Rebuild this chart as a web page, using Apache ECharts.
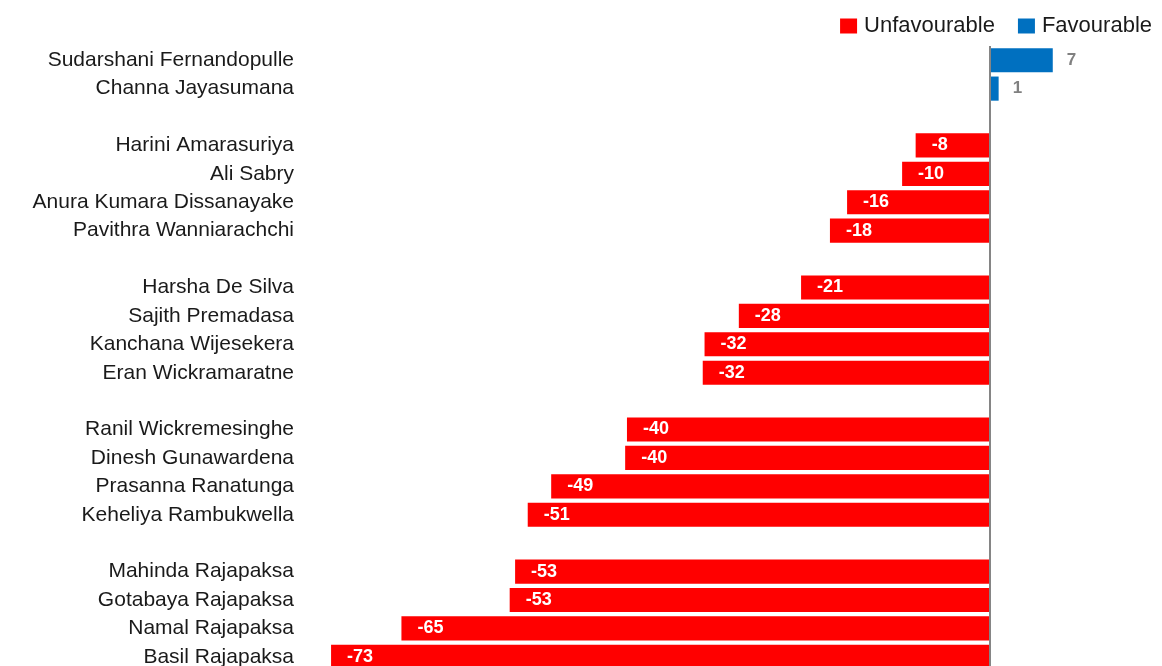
<!DOCTYPE html>
<html><head><meta charset="utf-8">
<script src="https://cdn.jsdelivr.net/npm/echarts@6/dist/echarts.min.js"></script>
<style>html,body{margin:0;padding:0;background:#fff;overflow:hidden}#c{width:1162px;height:672px}</style>
</head><body><div id="c"></div>
<script>
const categories = ['Sudarshani Fernandopulle','Channa Jayasumana','',
 'Harini Amarasuriya','Ali Sabry','Anura Kumara Dissanayake','Pavithra Wanniarachchi','',
 'Harsha De Silva','Sajith Premadasa','Kanchana Wijesekera','Eran Wickramaratne','',
 'Ranil Wickremesinghe','Dinesh Gunawardena','Prasanna Ranatunga','Keheliya Rambukwella','',
 'Mahinda Rajapaksa','Gotabaya Rajapaksa','Namal Rajapaksa','Basil Rajapaksa'];
const unfavourable = [null,null,null,-8.2,-9.7,-15.8,-17.7,null,-20.9,-27.8,-31.6,-31.8,null,-40.2,-40.4,-48.6,-51.2,null,-52.6,-53.2,-65.2,-73];
const favourable = [7,1,null,null,null,null,null,null,null,null,null,null,null,null,null,null,null,null,null,null,null,null];

const chart = echarts.init(document.getElementById('c'));
const FONT = 'Liberation Sans, Arial, sans-serif';
chart.setOption({
  animation:false,
  textStyle:{fontFamily:FONT},
  legend:{right:5, top:10, itemWidth:17, itemHeight:15, itemGap:23, icon:'rect',
    textStyle:{fontSize:22, color:'#1a1a1a', fontFamily:FONT, padding:[0,0,0,2]},
    data:['Unfavourable','Favourable']},
  grid:{left:304, right:10, top:46, height:625},
  xAxis:{type:'value', min:-76, max:18, show:false},
  yAxis:{type:'category', inverse:true, data:categories,
    axisLine:{show:false}, axisTick:{show:false}, splitLine:{show:false},
    axisLabel:{fontSize:21, color:'#1a1a1a', margin:10, fontFamily:FONT}},
  series:[
    {name:'Unfavourable', type:'bar', stack:'s', data:unfavourable, barCategoryGap:'15%',
     itemStyle:{color:'#ff0000'},
     label:{show:true, position:'insideLeft', distance:16, color:'#fff', fontWeight:'bold', fontSize:18, fontFamily:FONT,
       formatter:p=>Math.round(p.value)},
     markLine:{silent:true, symbol:'none', label:{show:false},
       lineStyle:{color:'#858585', width:2, type:'solid'}, data:[{xAxis:0}]}},
    {name:'Favourable', type:'bar', stack:'s', data:favourable, barCategoryGap:'15%',
     itemStyle:{color:'#0070c0'},
     label:{show:true, position:'right', distance:14, color:'#808080', fontWeight:'bold', fontSize:17, fontFamily:FONT,
       formatter:p=>Math.round(p.value)}}
  ]
});
</script></body></html>
